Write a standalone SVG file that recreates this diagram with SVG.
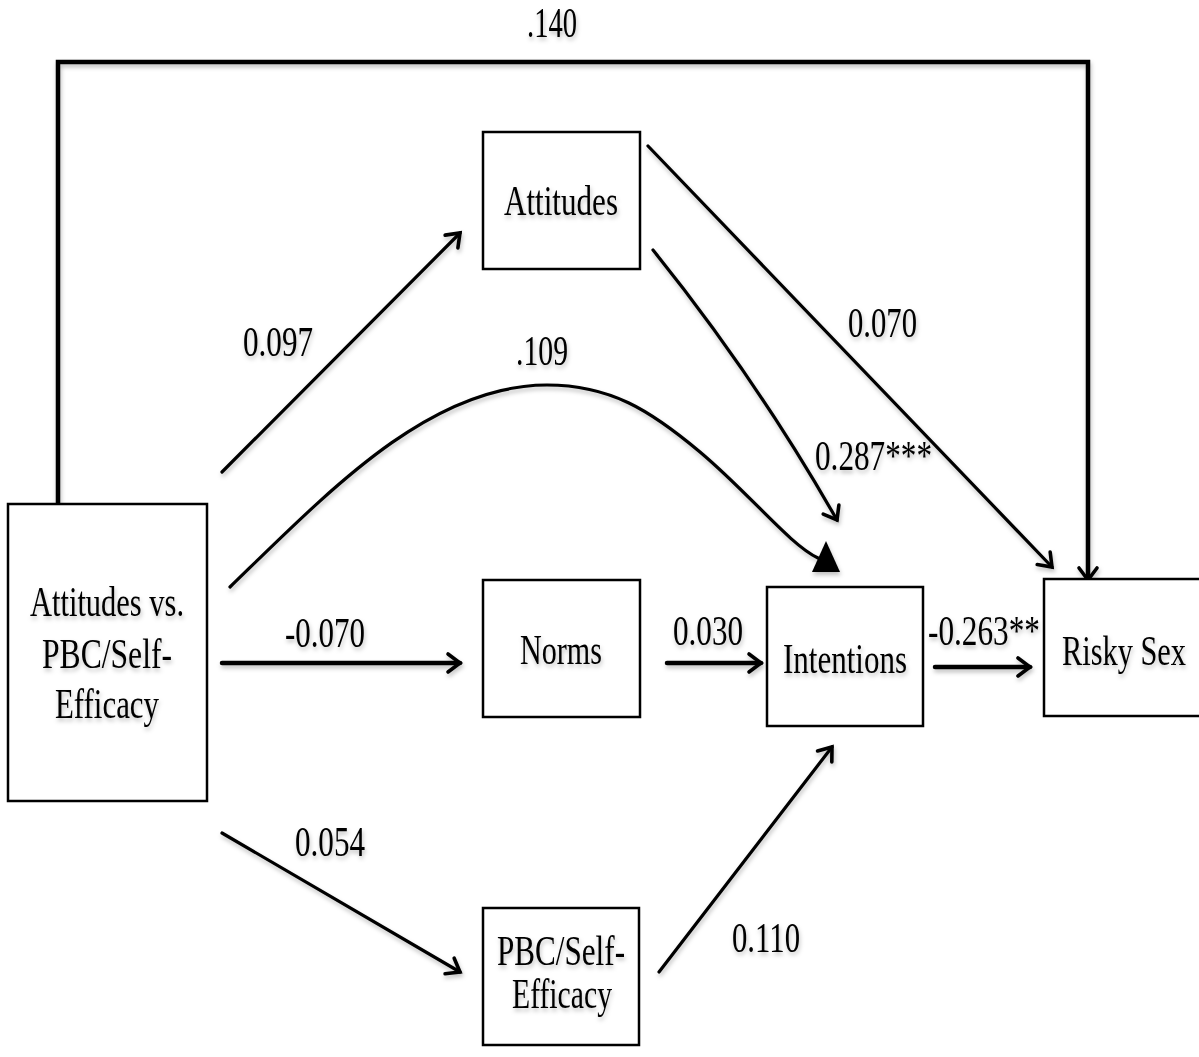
<svg xmlns="http://www.w3.org/2000/svg" width="1199" height="1057" viewBox="0 0 1199 1057">
<style>
.box{fill:#fff;stroke:#000;stroke-width:2.5}
.t{font-family:"Liberation Serif","Times New Roman",serif;font-size:42px;fill:#000}
.ln{fill:none;stroke:#000;stroke-width:3.2;stroke-linecap:round}
.thk{stroke-width:4.5}
</style>
<defs>
<filter id="sh" x="-10%" y="-10%" width="120%" height="130%">
<feDropShadow dx="1" dy="3" stdDeviation="2" flood-color="#000" flood-opacity="0.25"/>
</filter>
<marker id="ah" markerUnits="userSpaceOnUse" markerWidth="24" markerHeight="24" viewBox="-2 -2 24 24" refX="18" refY="10" orient="auto">
<path d="M6,1 L18,10 L6,19" fill="none" stroke="#000" stroke-width="3.6" stroke-linecap="round" stroke-linejoin="miter"/>
</marker>
</defs>
<rect width="1199" height="1057" fill="#fff"/>
<g id="connectors" filter="url(#sh)">
<polyline class="ln thk" points="58,504 58,62 1088,62 1088,580" marker-end="url(#ah)"/>
<line class="ln" x1="222" y1="472" x2="460" y2="233" marker-end="url(#ah)"/>
<path class="ln" d="M230,587 C330,490 430,385 547,385 C610,385 650,410 700,452 S790,545 818,558"/>
<polygon points="812,572 840,572 826,541" fill="#000"/>
<path class="ln" d="M653,250 Q756,378 837,520" marker-end="url(#ah)"/>
<line class="ln" x1="648" y1="146" x2="1052" y2="567" marker-end="url(#ah)"/>
<line class="ln thk" x1="222" y1="663" x2="460" y2="663" marker-end="url(#ah)"/>
<line class="ln thk" x1="667" y1="663" x2="761" y2="663" marker-end="url(#ah)"/>
<line class="ln thk" x1="935" y1="667" x2="1030" y2="667" marker-end="url(#ah)"/>
<line class="ln" x1="222" y1="833" x2="460" y2="972" marker-end="url(#ah)"/>
<line class="ln" x1="659" y1="972" x2="832" y2="747" marker-end="url(#ah)"/>
</g>
<g id="labels" filter="url(#sh)">
<text class="t" x="527" y="37" textLength="50" lengthAdjust="spacingAndGlyphs">.140</text>
<text class="t" x="243" y="356" textLength="70" lengthAdjust="spacingAndGlyphs">0.097</text>
<text class="t" x="516" y="365" textLength="52" lengthAdjust="spacingAndGlyphs">.109</text>
<text class="t" x="848" y="337" textLength="69" lengthAdjust="spacingAndGlyphs">0.070</text>
<text class="t" x="815" y="470" textLength="117" lengthAdjust="spacingAndGlyphs">0.287***</text>
<text class="t" x="285" y="647" textLength="80" lengthAdjust="spacingAndGlyphs">-0.070</text>
<text class="t" x="673" y="645" textLength="70" lengthAdjust="spacingAndGlyphs">0.030</text>
<text class="t" x="928" y="645" textLength="112" lengthAdjust="spacingAndGlyphs">-0.263**</text>
<text class="t" x="295" y="856" textLength="70" lengthAdjust="spacingAndGlyphs">0.054</text>
<text class="t" x="732" y="952" textLength="68" lengthAdjust="spacingAndGlyphs">0.110</text>
</g>
<g id="node-source">
<rect class="box" x="8" y="504" width="199" height="297"/>
<g filter="url(#sh)">
<text class="t" x="30" y="616" textLength="154" lengthAdjust="spacingAndGlyphs">Attitudes vs.</text>
<text class="t" x="42" y="668" textLength="130" lengthAdjust="spacingAndGlyphs">PBC/Self-</text>
<text class="t" x="55" y="718" textLength="104" lengthAdjust="spacingAndGlyphs">Efficacy</text>
</g>
</g>
<g id="node-attitudes">
<rect class="box" x="483" y="132" width="157" height="137"/>
<text class="t" x="504" y="215" textLength="114" lengthAdjust="spacingAndGlyphs" filter="url(#sh)">Attitudes</text>
</g>
<g id="node-norms">
<rect class="box" x="483" y="580" width="157" height="137"/>
<text class="t" x="520" y="664" textLength="82" lengthAdjust="spacingAndGlyphs" filter="url(#sh)">Norms</text>
</g>
<g id="node-intentions">
<rect class="box" x="767" y="587" width="156" height="139"/>
<text class="t" x="783" y="673" textLength="124" lengthAdjust="spacingAndGlyphs" filter="url(#sh)">Intentions</text>
</g>
<g id="node-risky">
<rect class="box" x="1044" y="579" width="160" height="137"/>
<text class="t" x="1062" y="665" textLength="124" lengthAdjust="spacingAndGlyphs" filter="url(#sh)">Risky Sex</text>
</g>
<g id="node-pbc">
<rect class="box" x="483" y="908" width="156" height="137"/>
<g filter="url(#sh)">
<text class="t" x="497" y="965" textLength="128" lengthAdjust="spacingAndGlyphs">PBC/Self-</text>
<text class="t" x="512" y="1008" textLength="100" lengthAdjust="spacingAndGlyphs">Efficacy</text>
</g>
</g>
</svg>
